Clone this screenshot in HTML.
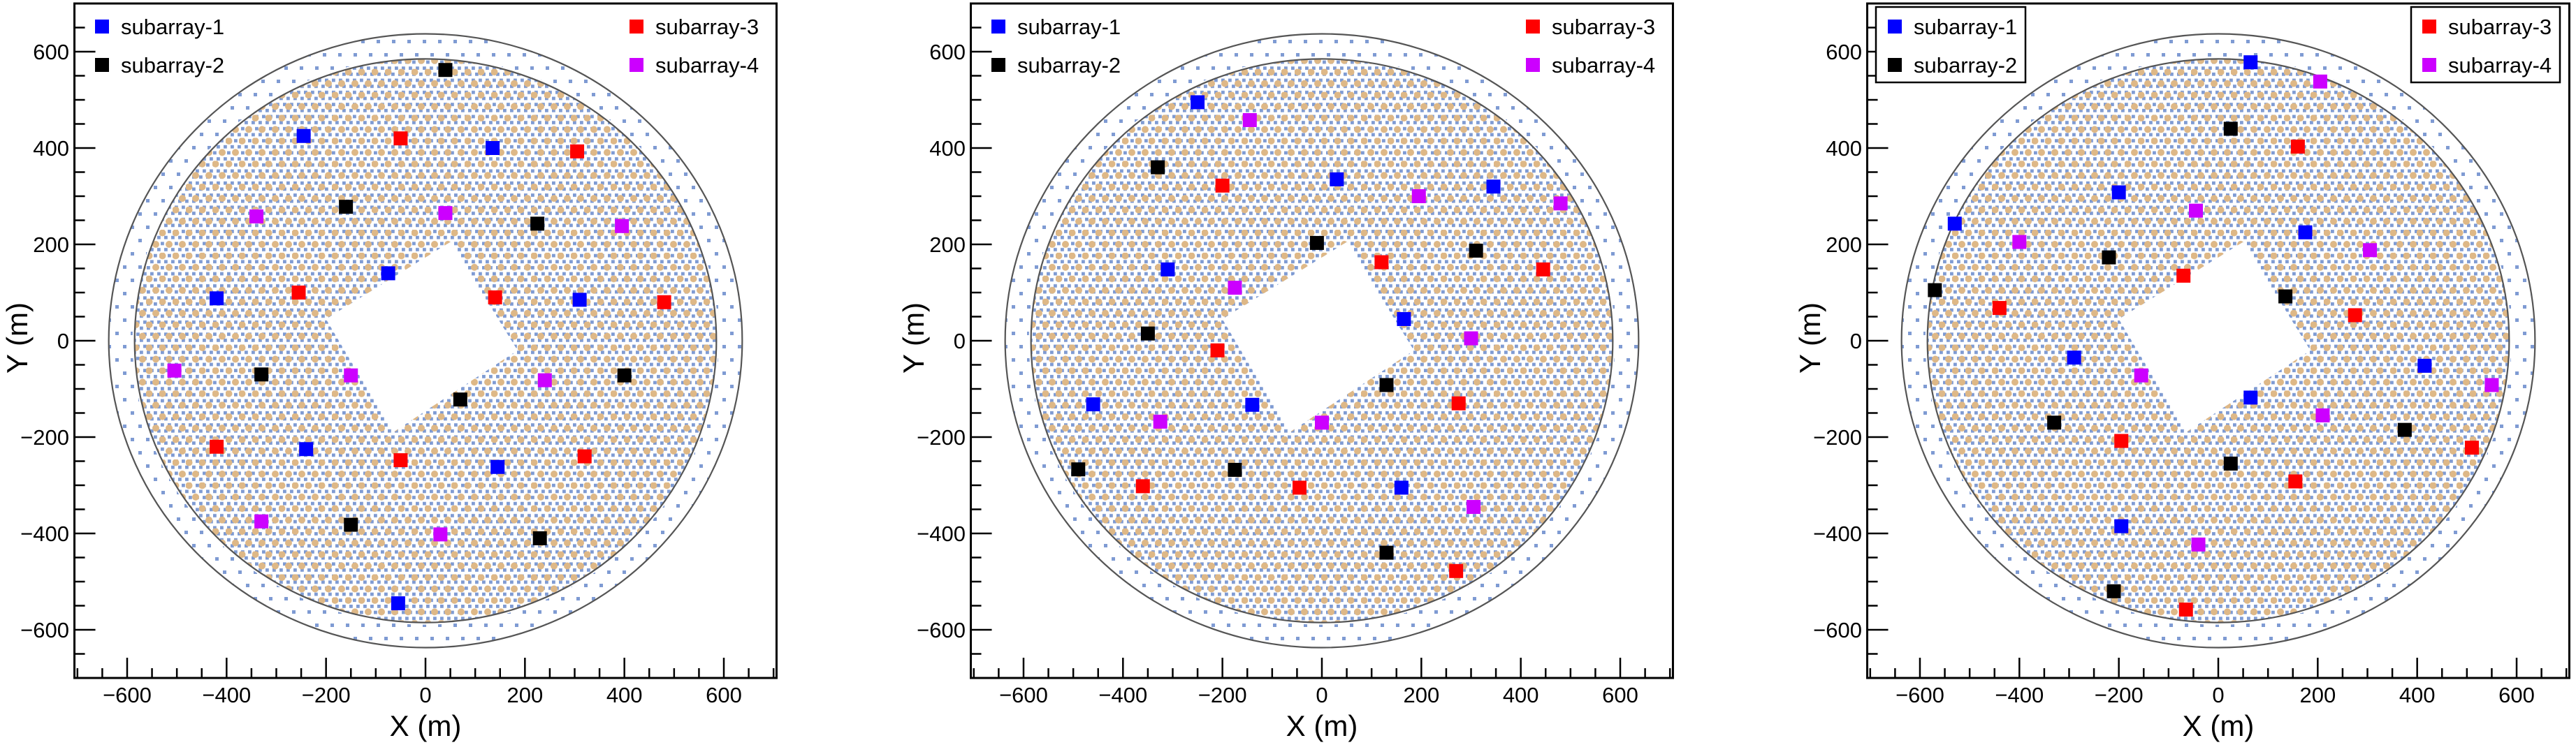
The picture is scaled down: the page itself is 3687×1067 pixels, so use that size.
<!DOCTYPE html>
<html><head><meta charset="utf-8"><style>
html,body{margin:0;padding:0;background:#fff;}
svg{display:block;font-family:"Liberation Sans",sans-serif;}
</style></head><body>
<svg id="chart" width="3687" height="1067" viewBox="0 0 3687 1067" xmlns="http://www.w3.org/2000/svg">
<defs>
<pattern id="pInner" patternUnits="userSpaceOnUse" width="10" height="17.32"><rect x="0" y="0" width="4.8" height="4.8" fill="#7f9bd3"/><rect x="5" y="8.66" width="4.8" height="4.8" fill="#7f9bd3"/></pattern>
<pattern id="pOrange" patternUnits="userSpaceOnUse" width="19" height="32.9"><circle cx="4.5" cy="4.5" r="5" fill="#deb887"/><circle cx="14" cy="20.95" r="5" fill="#deb887"/></pattern>
<pattern id="pOuter" patternUnits="userSpaceOnUse" width="22" height="38"><rect x="0" y="0" width="5" height="5" fill="#7f9bd3"/><rect x="11" y="19" width="5" height="5" fill="#7f9bd3"/></pattern>
</defs>
</svg>
<script>
const panelOffsets=[0,1283,2566];
const xTicks=[-600,-400,-200,0,200,400,600];
const yTicks=[-600,-400,-200,0,200,400,600];
const innerRadius=585, outerRadius=637;
const holeX=[-200,50,185,-65];
const holeY=[45,205,-20,-190];
// panel 1
const p1BlueX=[-245,135,-75,-420,310,-240,145,-55], p1BlueY=[425,400,140,88,85,-225,-262,-545];
const p1BlackX=[40,-160,225,-330,70,400,-150,230], p1BlackY=[562,278,243,-70,-122,-72,-382,-410];
const p1RedX=[-50,305,-255,140,480,-420,-50,320], p1RedY=[420,393,100,90,80,-220,-248,-240];
const p1MagX=[-340,40,395,-505,-150,240,-330,30], p1MagY=[258,265,238,-62,-72,-82,-375,-402];
// panel 2
const p2BlueX=[-250,30,345,-310,165,-460,-140,160], p2BlueY=[495,335,320,148,45,-132,-133,-305];
const p2BlackX=[-330,-10,310,-350,130,-490,-175,130], p2BlackY=[360,203,187,15,-92,-267,-268,-440];
const p2RedX=[-200,120,445,-210,275,-360,-45,270], p2RedY=[322,163,148,-20,-130,-302,-305,-478];
const p2MagX=[-145,195,480,-175,300,-325,0,305], p2MagY=[458,300,285,110,5,-168,-170,-345];
// panel 3
const p3BlueX=[65,-200,175,-530,-290,65,415,-195], p3BlueY=[578,308,225,243,-35,-118,-52,-385];
const p3BlackX=[25,-220,135,-570,-330,375,25,-210], p3BlackY=[440,173,92,105,-170,-185,-255,-520];
const p3RedX=[160,-440,-70,275,-195,155,510,-65], p3RedY=[403,68,135,53,-208,-292,-222,-558];
const p3MagX=[205,-45,-400,305,-155,210,550,-40], p3MagY=[538,270,205,188,-72,-155,-92,-423];
const legendLabels=["subarray-1","subarray-2","subarray-3","subarray-4"];
const colors=["#0000ff","#000000","#ff0000","#cc00ff"];

const NS="http://www.w3.org/2000/svg";
const svg=document.getElementById('chart');
const defs=svg.querySelector('defs');
function sx(v){return 609+v*0.7117;}
function sy(v){return 488-v*0.69;}
function mk(tag,attrs,parent){const e=document.createElementNS(NS,tag);for(const k in attrs)e.setAttribute(k,attrs[k]);if(parent)parent.appendChild(e);return e;}

const panels=[
 [[p1BlueX,p1BlueY],[p1BlackX,p1BlackY],[p1RedX,p1RedY],[p1MagX,p1MagY]],
 [[p2BlueX,p2BlueY],[p2BlackX,p2BlackY],[p2RedX,p2RedY],[p2MagX,p2MagY]],
 [[p3BlueX,p3BlueY],[p3BlackX,p3BlackY],[p3RedX,p3RedY],[p3MagX,p3MagY]]
];
const seriesNames=["subarray-1","subarray-2","subarray-3","subarray-4"];

const holePts=holeX.map((x,i)=>sx(x)+','+sy(holeY[i])).join(' ');
const mIn=mk('mask',{id:'mInner',maskUnits:'userSpaceOnUse',x:0,y:0,width:1200,height:1067},defs);
mk('ellipse',{cx:sx(0),cy:sy(0),rx:innerRadius*0.7117,ry:innerRadius*0.69,fill:'#fff'},mIn);
mk('polygon',{points:holePts,fill:'#000'},mIn);
const mOut=mk('mask',{id:'mOuter',maskUnits:'userSpaceOnUse',x:0,y:0,width:1200,height:1067},defs);
mk('ellipse',{cx:sx(0),cy:sy(0),rx:outerRadius*0.7117,ry:outerRadius*0.69,fill:'#fff'},mOut);
mk('ellipse',{cx:sx(0),cy:sy(0),rx:innerRadius*0.7117+3,ry:innerRadius*0.69+3,fill:'#000'},mOut);

panels.forEach((series,pi)=>{
 const g=mk('g',{transform:'translate('+panelOffsets[pi]+',0)'},svg);
 
 
 const L=sx(-706),R=sx(706),T=sy(700),B=sy(-700);
 const outer=mk('rect',{x:L,y:T,width:R-L,height:B-T,fill:'url(#pOuter)',mask:'url(#mOuter)'},g);
 
 
 const inner=mk('rect',{x:L,y:T,width:R-L,height:B-T,fill:'url(#pInner)',mask:'url(#mInner)'},g);
 
 
 const orange=mk('rect',{x:L,y:T,width:R-L,height:B-T,fill:'url(#pOrange)',mask:'url(#mInner)'},g);
 
 
 [innerRadius,outerRadius].forEach((r,ri)=>{
  const c=mk('ellipse',{cx:sx(0),cy:sy(0),rx:r*0.7117,ry:r*0.69,fill:'none',stroke:'#555',"stroke-width":2.2},g);
  
  
 });
 series.forEach((s,si)=>{
  s[0].forEach((x,k)=>{
   const r=mk('rect',{x:sx(x)-10,y:sy(s[1][k])-10,width:20,height:20,fill:colors[si]},g);
   
   
  });
 });
 const fr=mk('rect',{x:L,y:T,width:R-L,height:B-T,fill:'none',stroke:'#000',"stroke-width":3},g);
 
 
 for(let v=-700;v<=700;v+=50){
  const maj=(v%200===0);
  const tx=sx(v);
  if(tx>L+2&&tx<R-2){
   const t=mk('line',{x1:tx,x2:tx,y1:B,y2:B-(maj?29:14),stroke:'#000',"stroke-width":2.5},g);
   
   
  }
  const ty=sy(v);
  if(ty>T+2&&ty<B-2){
   const t=mk('line',{x1:L,x2:L+(maj?30:15),y1:ty,y2:ty,stroke:'#000',"stroke-width":2.5},g);
   
   
  }
 }
 xTicks.forEach(v=>{
  const t=mk('text',{x:sx(v),y:1006,"text-anchor":"middle","font-size":31},g);
  t.textContent=v<0?'\u2212'+(-v):String(v);
  
  
 });
 yTicks.forEach(v=>{
  const t=mk('text',{x:99,y:sy(v)+11,"text-anchor":"end","font-size":31},g);
  t.textContent=v<0?'\u2212'+(-v):String(v);
  
  
 });
 const xt=mk('text',{x:609,y:1054,"text-anchor":"middle","font-size":42},g);
 xt.textContent='X (m)';
 
 
 const yt=mk('text',{x:0,y:0,"text-anchor":"middle","font-size":42,transform:'translate(39,484) rotate(-90)'},g);
 yt.textContent='Y (m)';
 
 
 if(pi===2){
  const b1=mk('rect',{x:119,y:10,width:214,height:108,fill:'#fff',stroke:'#000',"stroke-width":2.5},g);
  
  
  const b2=mk('rect',{x:885,y:10,width:213,height:108,fill:'#fff',stroke:'#000',"stroke-width":2.5},g);
  
  
 }
 legendLabels.forEach((lab,li)=>{
  const mx=li<2?136:901, tx=li<2?173:938, cy=li%2===0?38:93;
  const m=mk('rect',{x:mx,y:cy-10,width:20,height:20,fill:colors[li]},g);
  
  
  const t=mk('text',{x:tx,y:cy+11,"font-size":31},g);
  t.textContent=lab;
  
  
 });
});
</script>
</body></html>
